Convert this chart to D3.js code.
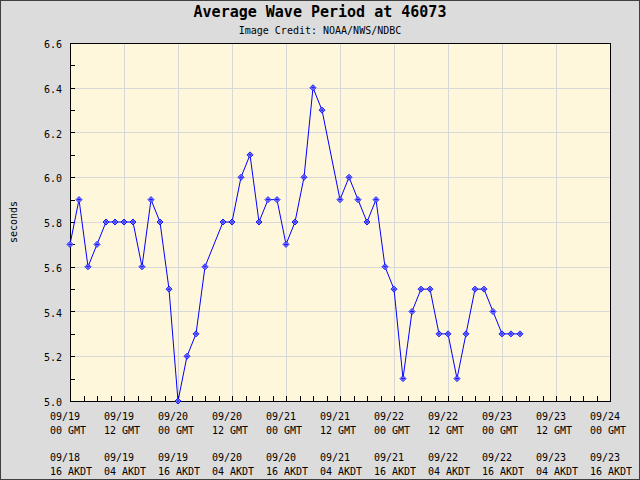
<!DOCTYPE html>
<html>
<head>
<meta charset="utf-8">
<script src="https://cdn.jsdelivr.net/npm/d3@7"></script>
<style>
  html, body { margin: 0; padding: 0; background: #dcdcdc; }
  svg { display: block; }
  text { font-family: "DejaVu Sans Mono", monospace; fill: #000; }
</style>
</head>
<body>
<svg id="chart" width="640" height="480"></svg>
<script>
// hours after 09/19 00 GMT, and wave period (s)
const hours = [0, 2, 4, 6, 8, 10, 12, 14, 16, 18, 20, 22, 24, 26, 28, 30, 34, 36, 38, 40,
  42, 44, 46, 48, 50, 52, 54, 56, 60, 62, 64, 66, 68, 70, 72, 74, 76, 78, 80, 82,
  84, 86, 88, 90, 92, 94, 96, 98, 100];
const periods = [5.7, 5.9, 5.6, 5.7, 5.8, 5.8, 5.8, 5.8, 5.6, 5.9, 5.8, 5.5, 5.0, 5.2, 5.3, 5.6, 5.8, 5.8, 6.0, 6.1,
  5.8, 5.9, 5.9, 5.7, 5.8, 6.0, 6.4, 6.3, 5.9, 6.0, 5.9, 5.8, 5.9, 5.6, 5.5, 5.1, 5.4, 5.5, 5.5, 5.3,
  5.3, 5.1, 5.3, 5.5, 5.5, 5.4, 5.3, 5.3, 5.3];
const yTicks = [5.0, 5.2, 5.4, 5.6, 5.8, 6.0, 6.2, 6.4, 6.6];
const gmtDates = ["09/19", "09/19", "09/20", "09/20", "09/21", "09/21", "09/22", "09/22", "09/23", "09/23", "09/24"];
const gmtHours = ["00 GMT", "12 GMT", "00 GMT", "12 GMT", "00 GMT", "12 GMT", "00 GMT", "12 GMT", "00 GMT", "12 GMT", "00 GMT"];
const akdtDates = ["09/18", "09/19", "09/19", "09/20", "09/20", "09/21", "09/21", "09/22", "09/22", "09/23", "09/23"];
const akdtHours = ["16 AKDT", "04 AKDT", "16 AKDT", "04 AKDT", "16 AKDT", "04 AKDT", "16 AKDT", "04 AKDT", "16 AKDT", "04 AKDT", "16 AKDT"];

const start = Date.UTC(2023, 8, 19, 0);
const hr = 3600 * 1000;
const data = hours.map((h, i) => ({ t: new Date(start + h * hr), v: periods[i] }));

const plotLeft = 70, plotRight = 610, plotTop = 43, plotBottom = 401;

const x = d3.scaleUtc()
  .domain([new Date(start), new Date(start + 120 * hr)])
  .range([plotLeft, plotRight]);
const y = d3.scaleLinear().domain([5.0, 6.6]).range([plotBottom, plotTop]);

const svg = d3.select("#chart");

svg.append("rect")
  .attr("x", 0.5).attr("y", 0.5).attr("width", 639).attr("height", 479)
  .attr("fill", "#dcdcdc").attr("stroke", "#404040");

svg.append("text")
  .attr("x", 320).attr("y", 17)
  .attr("text-anchor", "middle")
  .attr("font-size", 15).attr("font-weight", "bold")
  .text("Average Wave Period at 46073");

svg.append("text")
  .attr("x", 320).attr("y", 34)
  .attr("text-anchor", "middle")
  .attr("font-size", 10)
  .text("Image Credit: NOAA/NWS/NDBC");

svg.append("rect")
  .attr("x", plotLeft).attr("y", plotTop)
  .attr("width", plotRight - plotLeft).attr("height", plotBottom - plotTop)
  .attr("fill", "#fff7dc");

const majorTimes = d3.range(0, 121, 12).map((h) => new Date(start + h * hr));
const minorTimes = d3.range(0, 121, 3).map((h) => new Date(start + h * hr));

// grid
svg.append("g")
  .attr("stroke", "#d8d8d8")
  .selectAll("line")
  .data(majorTimes.slice(1, -1))
  .join("line")
  .attr("x1", (d) => Math.round(x(d)) + 0.5).attr("x2", (d) => Math.round(x(d)) + 0.5)
  .attr("y1", plotTop).attr("y2", plotBottom);

svg.append("g")
  .attr("stroke", "#d8d8d8")
  .selectAll("line")
  .data(yTicks.slice(1, -1))
  .join("line")
  .attr("x1", plotLeft).attr("x2", plotRight)
  .attr("y1", (d) => Math.round(y(d)) + 0.5).attr("y2", (d) => Math.round(y(d)) + 0.5);

// ticks
svg.append("g")
  .attr("stroke", "#000")
  .selectAll("line")
  .data(minorTimes)
  .join("line")
  .attr("x1", (d) => Math.round(x(d)) + 0.5).attr("x2", (d) => Math.round(x(d)) + 0.5)
  .attr("y1", plotBottom).attr("y2", plotBottom - 5);

svg.append("g")
  .attr("stroke", "#000")
  .selectAll("line")
  .data(d3.range(5.0, 6.61, 0.1))
  .join("line")
  .attr("x1", plotLeft).attr("x2", plotLeft + 5)
  .attr("y1", (d) => Math.round(y(d)) + 0.5).attr("y2", (d) => Math.round(y(d)) + 0.5);

// frame
svg.append("rect")
  .attr("x", plotLeft + 0.5).attr("y", plotTop + 0.5)
  .attr("width", plotRight - plotLeft).attr("height", plotBottom - plotTop)
  .attr("fill", "none").attr("stroke", "#000");

// y labels
svg.append("g")
  .selectAll("text")
  .data(yTicks)
  .join("text")
  .attr("x", 62).attr("y", (d) => y(d) + 5)
  .attr("text-anchor", "end")
  .attr("font-size", 10)
  .text((d) => d.toFixed(1));

svg.append("text")
  .attr("transform", `translate(17,${(plotTop + plotBottom) / 2}) rotate(-90)`)
  .attr("text-anchor", "middle")
  .attr("font-size", 10)
  .attr("font-family", "DejaVu Sans")
  .text("seconds");

// x labels
const xl = svg.append("g").attr("font-size", 10);
[[gmtDates, 420], [gmtHours, 434], [akdtDates, 461], [akdtHours, 475]].forEach(([labels, yy]) => {
  xl.append("g")
    .selectAll("text")
    .data(majorTimes)
    .join("text")
    .attr("x", (d) => x(d) - 20)
    .attr("y", yy)
    .text((d, i) => labels[i]);
});

// series
const line = d3.line().x((d) => x(d.t)).y((d) => y(d.v));
svg.append("path")
  .datum(data)
  .attr("fill", "none")
  .attr("stroke", "#0000ff")
  .attr("stroke-width", 1)
  .attr("d", line);

const marks = svg.append("g")
  .attr("stroke", "#0000ff")
  .attr("stroke-width", 0.9)
  .attr("fill", "#c8c8ff");
marks.selectAll("path")
  .data(data)
  .join("path")
  .attr("d", (d) => {
    const cx = x(d.t), cy = y(d.v);
    return `M${cx - 3},${cy}L${cx},${cy - 3}L${cx + 3},${cy}L${cx},${cy + 3}Z` +
      `M${cx - 2},${cy}L${cx + 2},${cy}M${cx},${cy - 2}L${cx},${cy + 2}`;
  });
</script>
</body>
</html>
